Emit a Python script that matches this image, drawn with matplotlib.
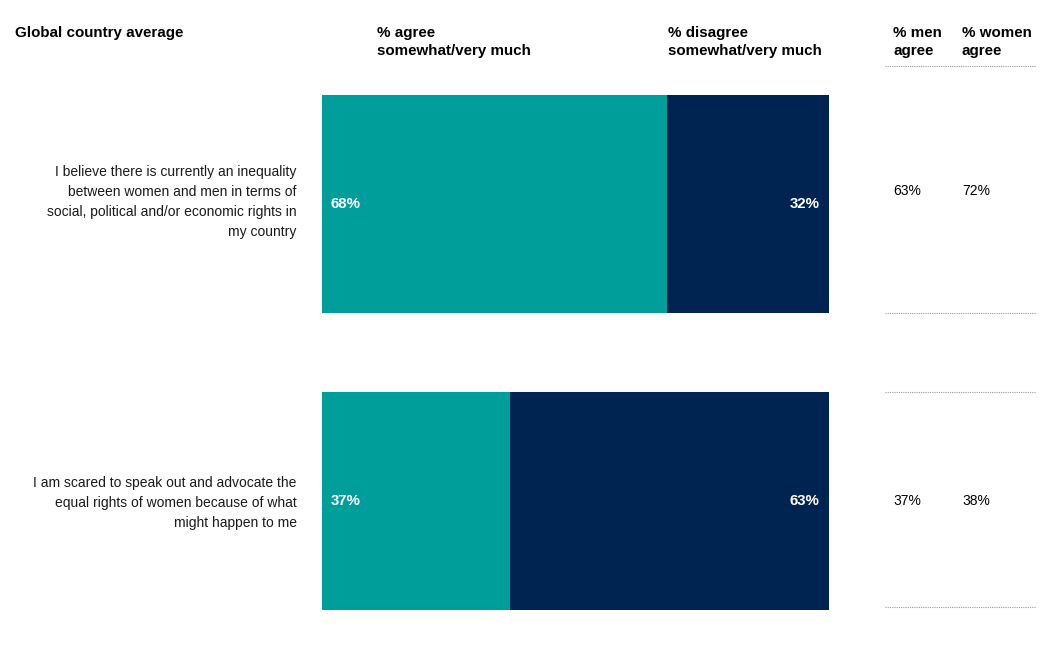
import matplotlib.pyplot as plt

plt.rcParams['font.family'] = ['Liberation Sans', 'DejaVu Sans']

statements = [
    "I believe there is currently an inequality\nbetween women and men in terms of\nsocial, political and/or economic rights in\nmy country",
    "I am scared to speak out and advocate the\nequal rights of women because of what\nmight happen to me",
]
agree = [68, 37]
disagree = [32, 63]
men_agree = [63, 37]
women_agree = [72, 38]

teal = '#009E9A'
navy = '#002452'

W, H = 1053, 646
fig = plt.figure(figsize=(W / 100, H / 100), dpi=100)

# bar axes in figure pixels: x 322..829, y 95..610
ax = fig.add_axes([322 / W, 1 - 610 / H, 507 / W, 515 / H])
ypos = list(range(len(statements)))
h = 0.734
ax.barh(ypos, agree, height=h, color=teal)
ax.barh(ypos, disagree, left=agree, height=h, color=navy)
ax.set_xlim(0, 100)
ax.set_ylim(1 + h / 2, -h / 2)
ax.axis('off')

label_shift = [-0.008, 0.007]
for i in ypos:
    ax.text(1.7, i, f"{agree[i]}%", color='white', fontsize=10.8, fontweight='bold',
            va='center', ha='left')
    ax.text(98.2, i, f"{disagree[i]}%", color='white', fontsize=10.8, fontweight='bold',
            va='center', ha='right')
    ax.text(-5, i + label_shift[i], statements[i], fontsize=10, ha='right', va='center',
            linespacing=1.55, color='#1a1a1a')

# headers
def fx(px):
    return px / W

def fy(py):
    return 1 - py / H

fig.text(fx(15), fy(33), "Global country average", fontsize=10.9, fontweight='bold',
         va='center', ha='left')
fig.text(fx(377), fy(42), "% agree\nsomewhat/very much", fontsize=10.9, fontweight='bold',
         va='center', ha='left', linespacing=1.35)
fig.text(fx(822), fy(42), "% disagree\nsomewhat/very much", fontsize=10.9, fontweight='bold',
         va='center', ha='right', linespacing=1.35, multialignment='left')
fig.text(fx(893), fy(42), "% men\nagree", fontsize=10.9, fontweight='bold',
         va='center', ha='left', linespacing=1.35)
fig.text(fx(962), fy(42), "% women\nagree", fontsize=10.9, fontweight='bold',
         va='center', ha='left', linespacing=1.35)

# right-hand table, sharing the bar axes' y scale
tab = fig.add_axes([885 / W, 1 - 610 / H, 151 / W, 515 / H], sharey=ax)
tab.set_xlim(0, 151)
tab.axis('off')
value_shift = [-0.044, 0.0]
top_line = [-h / 2 - 0.098, 1 - h / 2]
bottom_line = [h / 2, 1 + h / 2 - 0.01]
for i in ypos:
    tab.text(8, i + value_shift[i], f"{men_agree[i]}%", fontsize=10, va='center', ha='left')
    tab.text(77, i + value_shift[i], f"{women_agree[i]}%", fontsize=10, va='center', ha='left')
    for yl in (top_line[i], bottom_line[i]):
        tab.plot([0, 151], [yl, yl], color='#999999', lw=0.8,
                 ls=(0, (1, 1)), clip_on=False)

fig.savefig('out.png', dpi=100)
